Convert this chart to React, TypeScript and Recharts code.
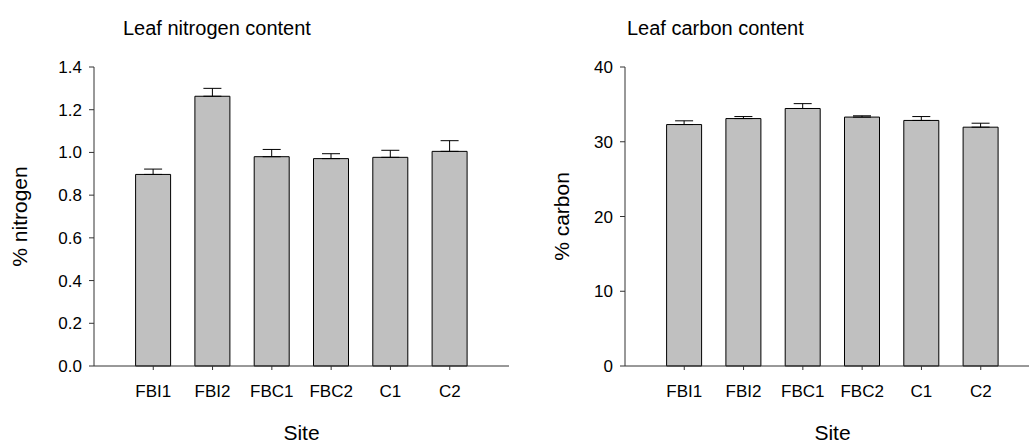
import React from "react";
import { BarChart, Bar, XAxis, YAxis, ErrorBar } from "recharts";

const sites = ["FBI1", "FBI2", "FBC1", "FBC2", "C1", "C2"];
const nitrogenMean = [0.897, 1.263, 0.98, 0.971, 0.977, 1.005];
const nitrogenSE = [0.025, 0.037, 0.034, 0.023, 0.033, 0.05];
const carbonMean = [32.3, 33.1, 34.45, 33.3, 32.85, 31.95];
const carbonSE = [0.5, 0.27, 0.65, 0.17, 0.52, 0.53];
const nitrogenTicks = [0, 0.2, 0.4, 0.6, 0.8, 1.0, 1.2, 1.4];
const carbonTicks = [0, 10, 20, 30, 40];

const nitrogenData = sites.map((s, i) => ({ site: s, value: nitrogenMean[i], err: [0, nitrogenSE[i]] }));
const carbonData = sites.map((s, i) => ({ site: s, value: carbonMean[i], err: [0, carbonSE[i]] }));

const FONT = "'Liberation Sans', Arial, sans-serif";
const AXIS = "#333";

type PanelProps = {
  data: any[];
  ticks: number[];
  domain: [number, number];
  fmt: (v: number) => string;
};

function Panel({ data, ticks, domain, fmt }: PanelProps) {
  const tickStyle = { fontSize: 17, fill: "#000", fontFamily: FONT };
  return (
    <BarChart width={530} height={444} data={data} margin={{ top: 67, right: 21, bottom: 0, left: 0 }}>
      <XAxis
        dataKey="site"
        height={78}
        padding={{ left: 29.6, right: 29.6 }}
        tickSize={4}
        tickMargin={15}
        tick={tickStyle}
        stroke={AXIS}
        interval={0}
      />
      <XAxis
        xAxisId="top"
        orientation="top"
        dataKey="site"
        height={0}
        tick={false}
        tickLine={false}
        stroke={AXIS}
      />
      <YAxis
        width={94}
        domain={domain}
        ticks={ticks}
        tickFormatter={fmt}
        tickSize={5}
        tickMargin={7}
        tick={tickStyle}
        stroke={AXIS}
        interval={0}
      />
      <YAxis yAxisId="r" orientation="right" width={0} tick={false} tickLine={false} stroke={AXIS} />
      <Bar dataKey="value" fill="#c0c0c0" stroke="#000" strokeWidth={1} barSize={35} isAnimationActive={false}>
        <ErrorBar dataKey="err" width={9} stroke="#000" strokeWidth={1} direction="y" />
      </Bar>
    </BarChart>
  );
}

export default function App() {
  const txt = { fontFamily: FONT, fill: "#000" };
  return (
    <div style={{ position: "absolute", left: 0, top: 0, width: 1029, height: 444, overflow: "hidden", background: "#fff" }}>
      <div style={{ position: "absolute", left: 0, top: 0 }}>
        <Panel data={nitrogenData} ticks={nitrogenTicks} domain={[0, 1.4]} fmt={(v) => v.toFixed(1)} />
      </div>
      <div style={{ position: "absolute", left: 531, top: 0 }}>
        <Panel data={carbonData} ticks={carbonTicks} domain={[0, 40]} fmt={(v) => String(v)} />
      </div>
      <svg width={1029} height={444} style={{ position: "absolute", left: 0, top: 0, pointerEvents: "none" }}>
        <text x={123} y={35} fontSize={20} {...txt}>Leaf nitrogen content</text>
        <text x={627} y={35} fontSize={20} {...txt}>Leaf carbon content</text>
        <text x={301.5} y={440} fontSize={21} textAnchor="middle" {...txt}>Site</text>
        <text x={832.5} y={440} fontSize={21} textAnchor="middle" {...txt}>Site</text>
        <text x={27} y={216.5} fontSize={21} textAnchor="middle" transform="rotate(-90 27 216.5)" {...txt}>% nitrogen</text>
        <text x={569} y={216.5} fontSize={21} textAnchor="middle" transform="rotate(-90 569 216.5)" {...txt}>% carbon</text>
      </svg>
    </div>
  );
}
